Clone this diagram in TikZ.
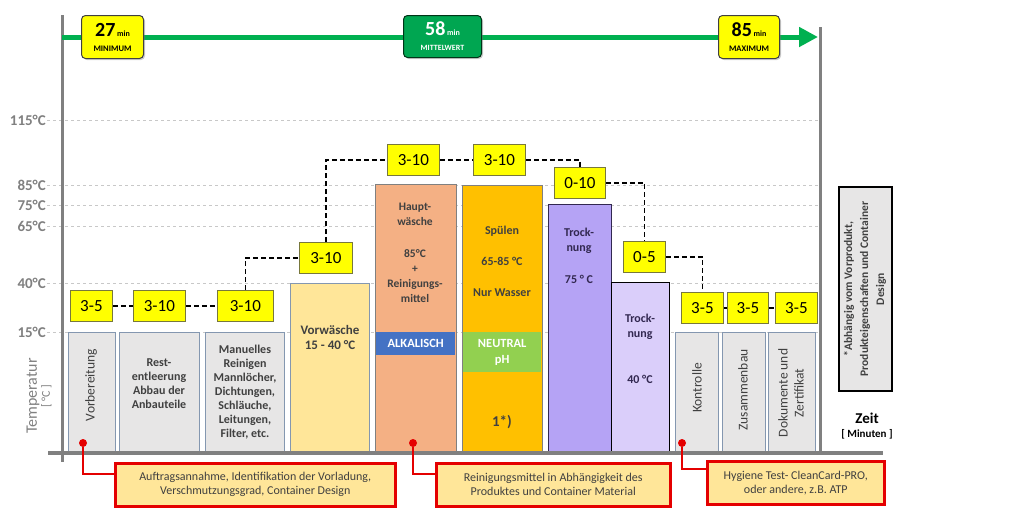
\documentclass[tikz,border=0pt]{standalone}
\usepackage{fontspec}
\setmainfont{Carlito}
\usetikzlibrary{calc,arrows.meta,shadows}
\definecolor{axisgray}{RGB}{128,128,128}
\definecolor{gridgray}{RGB}{200,200,200}
\definecolor{tgreen}{RGB}{0,176,80}
\definecolor{badgegreen}{RGB}{0,166,81}
\definecolor{byellow}{RGB}{255,255,0}
\definecolor{timeedge}{RGB}{120,120,60}
\definecolor{stagegray}{RGB}{231,230,230}
\definecolor{stageedge}{RGB}{132,151,176}
\definecolor{vorwfill}{RGB}{255,230,153}
\definecolor{hauptfill}{RGB}{244,176,132}
\definecolor{alkblue}{RGB}{68,114,196}
\definecolor{spuelfill}{RGB}{255,192,0}
\definecolor{neutralgreen}{RGB}{146,208,80}
\definecolor{trockfillA}{RGB}{181,163,245}
\definecolor{trockfillB}{RGB}{218,206,250}
\definecolor{trocktext}{RGB}{50,40,80}
\definecolor{notefill}{RGB}{255,230,153}
\definecolor{calloutred}{RGB}{228,0,0}
\definecolor{textdark}{RGB}{64,64,64}

\begin{document}
\begin{tikzpicture}
[x=1pt,y=-1pt,inner sep=0pt,
axis/.style={draw=axisgray,line width=3pt},
grid/.style={draw=gridgray,dashed,line width=0.6pt},
templabel/.style={text=axisgray,font=\fontsize{15}{15}\selectfont\bfseries,anchor=east},
stage/.style={draw=stageedge,line width=1.2pt,fill=stagegray,anchor=north west},
stagetext/.style={text=textdark,font=\fontsize{12}{14}\selectfont\bfseries,align=center},
sidetext/.style={text=textdark,font=\fontsize{13.5}{16}\selectfont,align=center,rotate=90},
band/.style={anchor=north west,text=white,font=\fontsize{12.5}{16}\selectfont\bfseries,align=center},
zeit/.style={draw=timeedge,line width=0.8pt,fill=byellow,minimum height=31pt,font=\fontsize{17}{17}\selectfont,anchor=north west},
link/.style={draw=black,line width=1.6pt,dash pattern=on 5pt off 3pt},
badge/.style={draw=black!75,line width=1pt,rounded corners=4pt,fill=byellow,anchor=north west,minimum height=43pt,align=center,drop shadow={shadow xshift=1.5pt,shadow yshift=-1.5pt,opacity=0.4}},
callout/.style={draw=calloutred,line width=2.5pt,fill=notefill,anchor=north west,minimum height=43pt,align=center,text=textdark,font=\fontsize{12}{14}\selectfont},
callline/.style={draw=calloutred,line width=1.8pt},
reddot/.style={circle,fill=calloutred,minimum size=8pt}]
\useasboundingbox (0,0) rectangle (1032,517);
\foreach \t/\y in {115/120,85/185,75/205,65/226,40/283,15/332}{
\draw[grid] (47,\y) -- (820,\y);
\node (t\t) at (46,\y) [templabel] {\t°C};
}
\coordinate (axTop) at (62,15);
\coordinate (axBot) at (62,462);
\coordinate (axrTop) at (820,27);
\coordinate (axrBot) at (820,453);
\coordinate (baseL) at (48,453);
\coordinate (baseR) at (883,453);
\coordinate (tStart) at (62,37);
\coordinate (tEnd) at (818,37);
\draw[axis] (axTop) -- (axBot);
\draw[axis] (axrTop) -- (axrBot);
\draw[draw=tgreen,line width=5pt,-{Triangle[length=19pt,width=19pt]}] (tStart) -- (tEnd);
\node (templ) at (39,396) [rotate=90,text=axisgray,align=center] {{\fontsize{16}{16}\selectfont Temperatur}\\[1pt]{\fontsize{12}{12}\selectfont [ °C ]}};

\node (vorb) at (68,332) [stage,minimum width=47pt,minimum height=120pt] {};
\node (rest) at (119,332) [stage,minimum width=80pt,minimum height=120pt] {};
\node (manu) at (205,332) [stage,minimum width=79pt,minimum height=120pt] {};
\node (vorw) at (290,283) [stage,fill=vorwfill,minimum width=79pt,minimum height=169pt] {};
\node (haupt) at (375,184) [stage,draw=axisgray,fill=hauptfill,minimum width=81pt,minimum height=268pt] {};
\node (spuel) at (462,185) [stage,draw=axisgray,fill=spuelfill,minimum width=80pt,minimum height=267pt] {};
\node (trockA) at (548,204) [stage,draw=trocktext,fill=trockfillA,minimum width=63pt,minimum height=248pt] {};
\node (trockB) at (611,282) [stage,draw=black,fill=trockfillB,minimum width=58pt,minimum height=170pt] {};
\node (kontr) at (675,332) [stage,minimum width=43pt,minimum height=120pt] {};
\node (zusam) at (722,332) [stage,minimum width=43pt,minimum height=120pt] {};
\node (doku) at (768,332) [stage,minimum width=47pt,minimum height=120pt] {};
\node (alk) at (376,332) [band,fill=alkblue,minimum width=79pt,minimum height=23pt] {ALKALISCH};
\node (neutr) at (463,332) [band,fill=neutralgreen,minimum width=78pt,minimum height=40pt] {NEUTRAL\\pH};
\draw[draw=axisgray,line width=4pt] (baseL) -- (baseR);

\node (vorbTx) at (91,385) [sidetext] {Vorbereitung};
\node (restTx) at (159,384) [stagetext] {Rest-\\entleerung\\Abbau der\\Anbauteile};
\node (manuTx) at (245,392) [stagetext] {Manuelles\\Reinigen\\Mannlöcher,\\Dichtungen,\\Schläuche,\\Leitungen,\\Filter, etc.};
\node (vorwTx) at (330,337) [stagetext,font=\fontsize{13}{15}\selectfont\bfseries] {Vorwäsche\\15 - 40 °C};
\node (hauptTx) at (415,203) [stagetext,anchor=north,font=\fontsize{11.5}{15}\selectfont\bfseries] {Haupt-\\wäsche\\[17pt]85°C\\+\\Reinigungs-\\mittel};
\node (spuelTx) at (502,226) [stagetext,anchor=north] {Spülen\\[17pt]65-85 °C\\[17pt]Nur Wasser};
\node (spuelFn) at (502,422) [stagetext,font=\fontsize{15}{15}\selectfont\bfseries] {1*)};
\node (trockATx) at (579,228) [stagetext,text=trocktext,anchor=north,font=\fontsize{12}{15}\selectfont\bfseries] {Trock-\\nung\\[17pt]75 ° C};
\node (trockBTx) at (640,314) [stagetext,text=trocktext,anchor=north,font=\fontsize{12}{15}\selectfont\bfseries] {Trock-\\nung\\[31pt]40 °C};
\node (kontrTx) at (697,388) [sidetext] {Kontrolle};
\node (zusamTx) at (743,390) [sidetext] {Zusammenbau};
\node (dokuTx) at (791,393) [sidetext] {Dokumente und\\Zertifikat};

\node (zA) at (70,290) [zeit,minimum width=42pt] {3-5};
\node (zB) at (133,290) [zeit,minimum width=52pt] {3-10};
\node (zC) at (217,290) [zeit,minimum width=56pt] {3-10};
\node (zD) at (299,242) [zeit,minimum width=53pt] {3-10};
\node (zE) at (387,144) [zeit,minimum width=52pt] {3-10};
\node (zF) at (473,144) [zeit,minimum width=52pt] {3-10};
\node (zG) at (554,167) [zeit,minimum width=51pt] {0-10};
\node (zH) at (623,241) [zeit,minimum width=42pt] {0-5};
\node (zI) at (681,292) [zeit,minimum width=42pt] {3-5};
\node (zJ) at (727,292) [zeit,minimum width=41pt] {3-5};
\node (zK) at (775,292) [zeit,minimum width=42pt] {3-5};
\draw[link] (zA) -- (zB);
\draw[link] (zB) -- (zC);
\draw[link] (zC.north) |- (zD.west);
\draw[link] (zD.north) |- (zE.west);
\draw[link] (zE) -- (zF);
\draw[link] (zF.east) -| (zG.north);
\draw[link] (zG.east) -| (zH.north);
\draw[link] (zH.east) -| (zI.north);
\draw[link] (zI) -- (zJ);
\draw[link] (zJ) -- (zK);

\node (minB) at (81,15) [badge,minimum width=62pt] {{\fontsize{20}{20}\selectfont\bfseries 27}\,{\fontsize{8}{8}\selectfont\bfseries min}\\[3pt]{\fontsize{8.5}{9}\selectfont\bfseries MINIMUM}};
\node (midB) at (403,15) [badge,fill=badgegreen,draw=black!70!tgreen,text=white,minimum width=78pt,minimum height=42pt] {{\fontsize{20}{20}\selectfont\bfseries 58}\,{\fontsize{8}{8}\selectfont\bfseries min}\\[3pt]{\fontsize{8}{9}\selectfont\bfseries MITTELWERT}};
\node (maxB) at (718,15) [badge,minimum width=61pt] {{\fontsize{20}{20}\selectfont\bfseries 85}\,{\fontsize{8}{8}\selectfont\bfseries min}\\[3pt]{\fontsize{8.5}{9}\selectfont\bfseries MAXIMUM}};

\node (dotA) at (83,443) [reddot] {};
\node (dotB) at (413,443) [reddot] {};
\node (dotC) at (682,443) [reddot] {};
\node (noteA) at (114,462) [callout,minimum width=280pt] {Auftragsannahme, Identifikation der Vorladung,\\Verschmutzungsgrad, Container Design};
\node (noteB) at (435,462) [callout,minimum width=234pt] {Reinigungsmittel in Abhängigkeit des\\Produktes und Container Material};
\node (noteC) at (706,460) [callout,minimum width=177pt] {Hygiene Test- CleanCard-PRO,\\oder andere, z.B. ATP};
\draw[callline] (dotA) |- ([yshift=11pt]noteA.west);
\draw[callline] (dotB) |- ([yshift=11pt]noteB.west);
\draw[callline] (dotC) |- ([yshift=14pt]noteC.west);

\node (hint) at (865,289) [rotate=90,draw=black,line width=2pt,fill=stagegray,minimum width=204pt,minimum height=53pt,align=center,text=textdark,font=\fontsize{11.5}{16}\selectfont\bfseries] {*Abhängig vom Vorprodukt,\\Produkteigenschaften und Container\\Design};
\node (zeitTx) at (867,418) [font=\fontsize{15}{15}\selectfont\bfseries] {Zeit};
\node (minuTx) at (867,434) [font=\fontsize{11}{11}\selectfont\bfseries] {[ Minuten ]};
\end{tikzpicture}
\end{document}
